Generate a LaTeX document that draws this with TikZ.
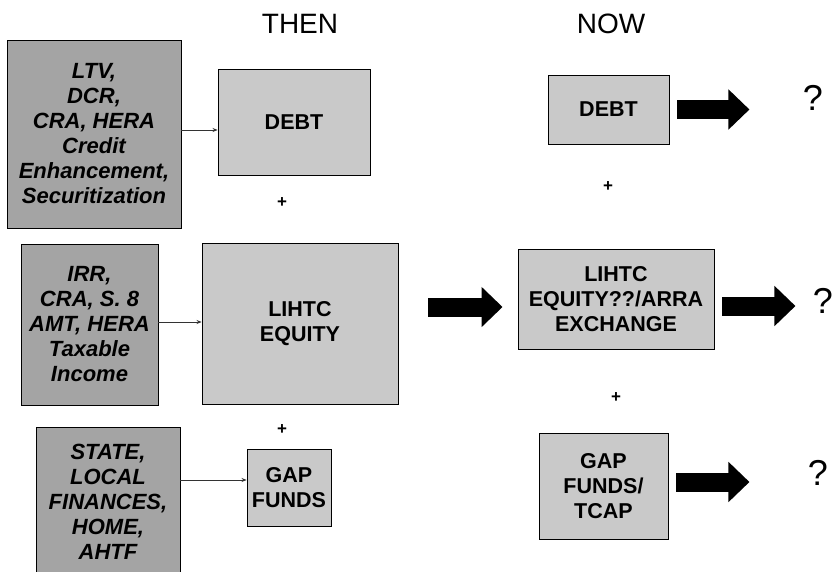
\documentclass[tikz,border=0pt]{standalone}
\usepackage{fontspec}
\setmainfont{Liberation Sans}
\usetikzlibrary{arrows.meta,calc}
\definecolor{darkbox}{HTML}{A4A4A4}
\definecolor{lightbox}{HTML}{C9C9C9}
\tikzset{
  leftbox/.style={draw=black, line width=0.9pt, fill=darkbox, inner sep=0pt, align=center,
    font=\fontsize{22}{25}\selectfont\bfseries\itshape},
  midbox/.style={draw=black, line width=0.9pt, fill=lightbox, inner sep=0pt, align=center,
    font=\fontsize{21.5}{25}\selectfont\bfseries},
  heading/.style={font=\fontsize{28}{30}\selectfont},
  plus/.style={font=\fontsize{17}{18}\selectfont\bfseries},
  qmark/.style={font=\fontsize{36}{38}\selectfont},
  thin/.style={draw=black!80, line width=0.7pt, -{Stealth[length=5pt,width=4pt]}},
  bigarrow/.style={draw=black, line width=19pt, -{Triangle[length=21pt,width=39pt]}}
}
\begin{document}
\begin{tikzpicture}[x=1pt,y=-1pt]
\useasboundingbox[fill=white] (0,0) rectangle (836,571);
% headings
\node[heading] (then) at (300,24) {THEN};
\node[heading] (now) at (611,24) {NOW};
% left boxes
\node[leftbox, minimum width=174pt, minimum height=188pt] (l1) at (94,134)
  {LTV,\\DCR,\\CRA, HERA\\Credit\\Enhancement,\\Securitization};
\node[leftbox, minimum width=137pt, minimum height=161pt] (l2) at (89.5,324.5)
  {IRR,\\CRA, S. 8\\AMT, HERA\\Taxable\\Income};
\node[leftbox, minimum width=144pt, minimum height=150pt] (l3) at (108,502)
  {STATE,\\LOCAL\\FINANCES,\\HOME,\\AHTF};
% then boxes
\node[midbox, minimum width=152pt, minimum height=106pt] (m1) at (294,122) {DEBT};
\node[midbox, minimum width=196pt, minimum height=161pt] (m2) at (300,323.5) {LIHTC\\EQUITY};
\node[midbox, minimum width=84pt, minimum height=77pt] (m3) at (289,487.5) {GAP\\FUNDS};
\node[plus] (p1) at (282,203) {+};
\node[plus] (p2) at (282,430) {+};
% now boxes
\node[midbox, minimum width=121pt, minimum height=69pt] (r1) at (608.5,109.5) {DEBT};
\node[midbox, minimum width=196pt, minimum height=100pt] (r2) at (616,299) {LIHTC\\EQUITY??/ARRA\\EXCHANGE};
\node[midbox, minimum width=129pt, minimum height=106pt] (r3) at (603.5,486) {GAP\\FUNDS/\\TCAP};
\node[plus] (p3) at (608,187) {+};
\node[plus] (p4) at (616,398) {+};
% question marks
\node[qmark] (q1) at (813,98) {?};
\node[qmark] (q2) at (823,301) {?};
\node[qmark] (q3) at (818,473) {?};
% thin connectors
\draw[thin] ($(l1.east)+(0,-4)$) -- ($(l1.east -| m1.west)+(0,-4)$);
\draw[thin] ($(l2.east)+(0,-2.5)$) -- ($(l2.east -| m2.west)+(0,-2.5)$);
\draw[thin] ($(m3.west -| l3.east)+(0,-7.5)$) -- ($(m3.west)+(0,-7.5)$);
% big arrows
\draw[bigarrow] ($(m2.east |- r2.west)+(30,8)$) -- ($(r2.west)+(-15,8)$);
\draw[bigarrow] ($(r1.east)+(8,0)$) -- ($(r1.east -| q1.west)+(-50,0)$);
\draw[bigarrow] ($(r2.east)+(8,7)$) -- ($(r2.east -| q2.west)+(-14,7)$);
\draw[bigarrow] ($(r3.east)+(8,-4)$) -- ($(r3.east -| q3.west)+(-55,-4)$);
\end{tikzpicture}
\end{document}
